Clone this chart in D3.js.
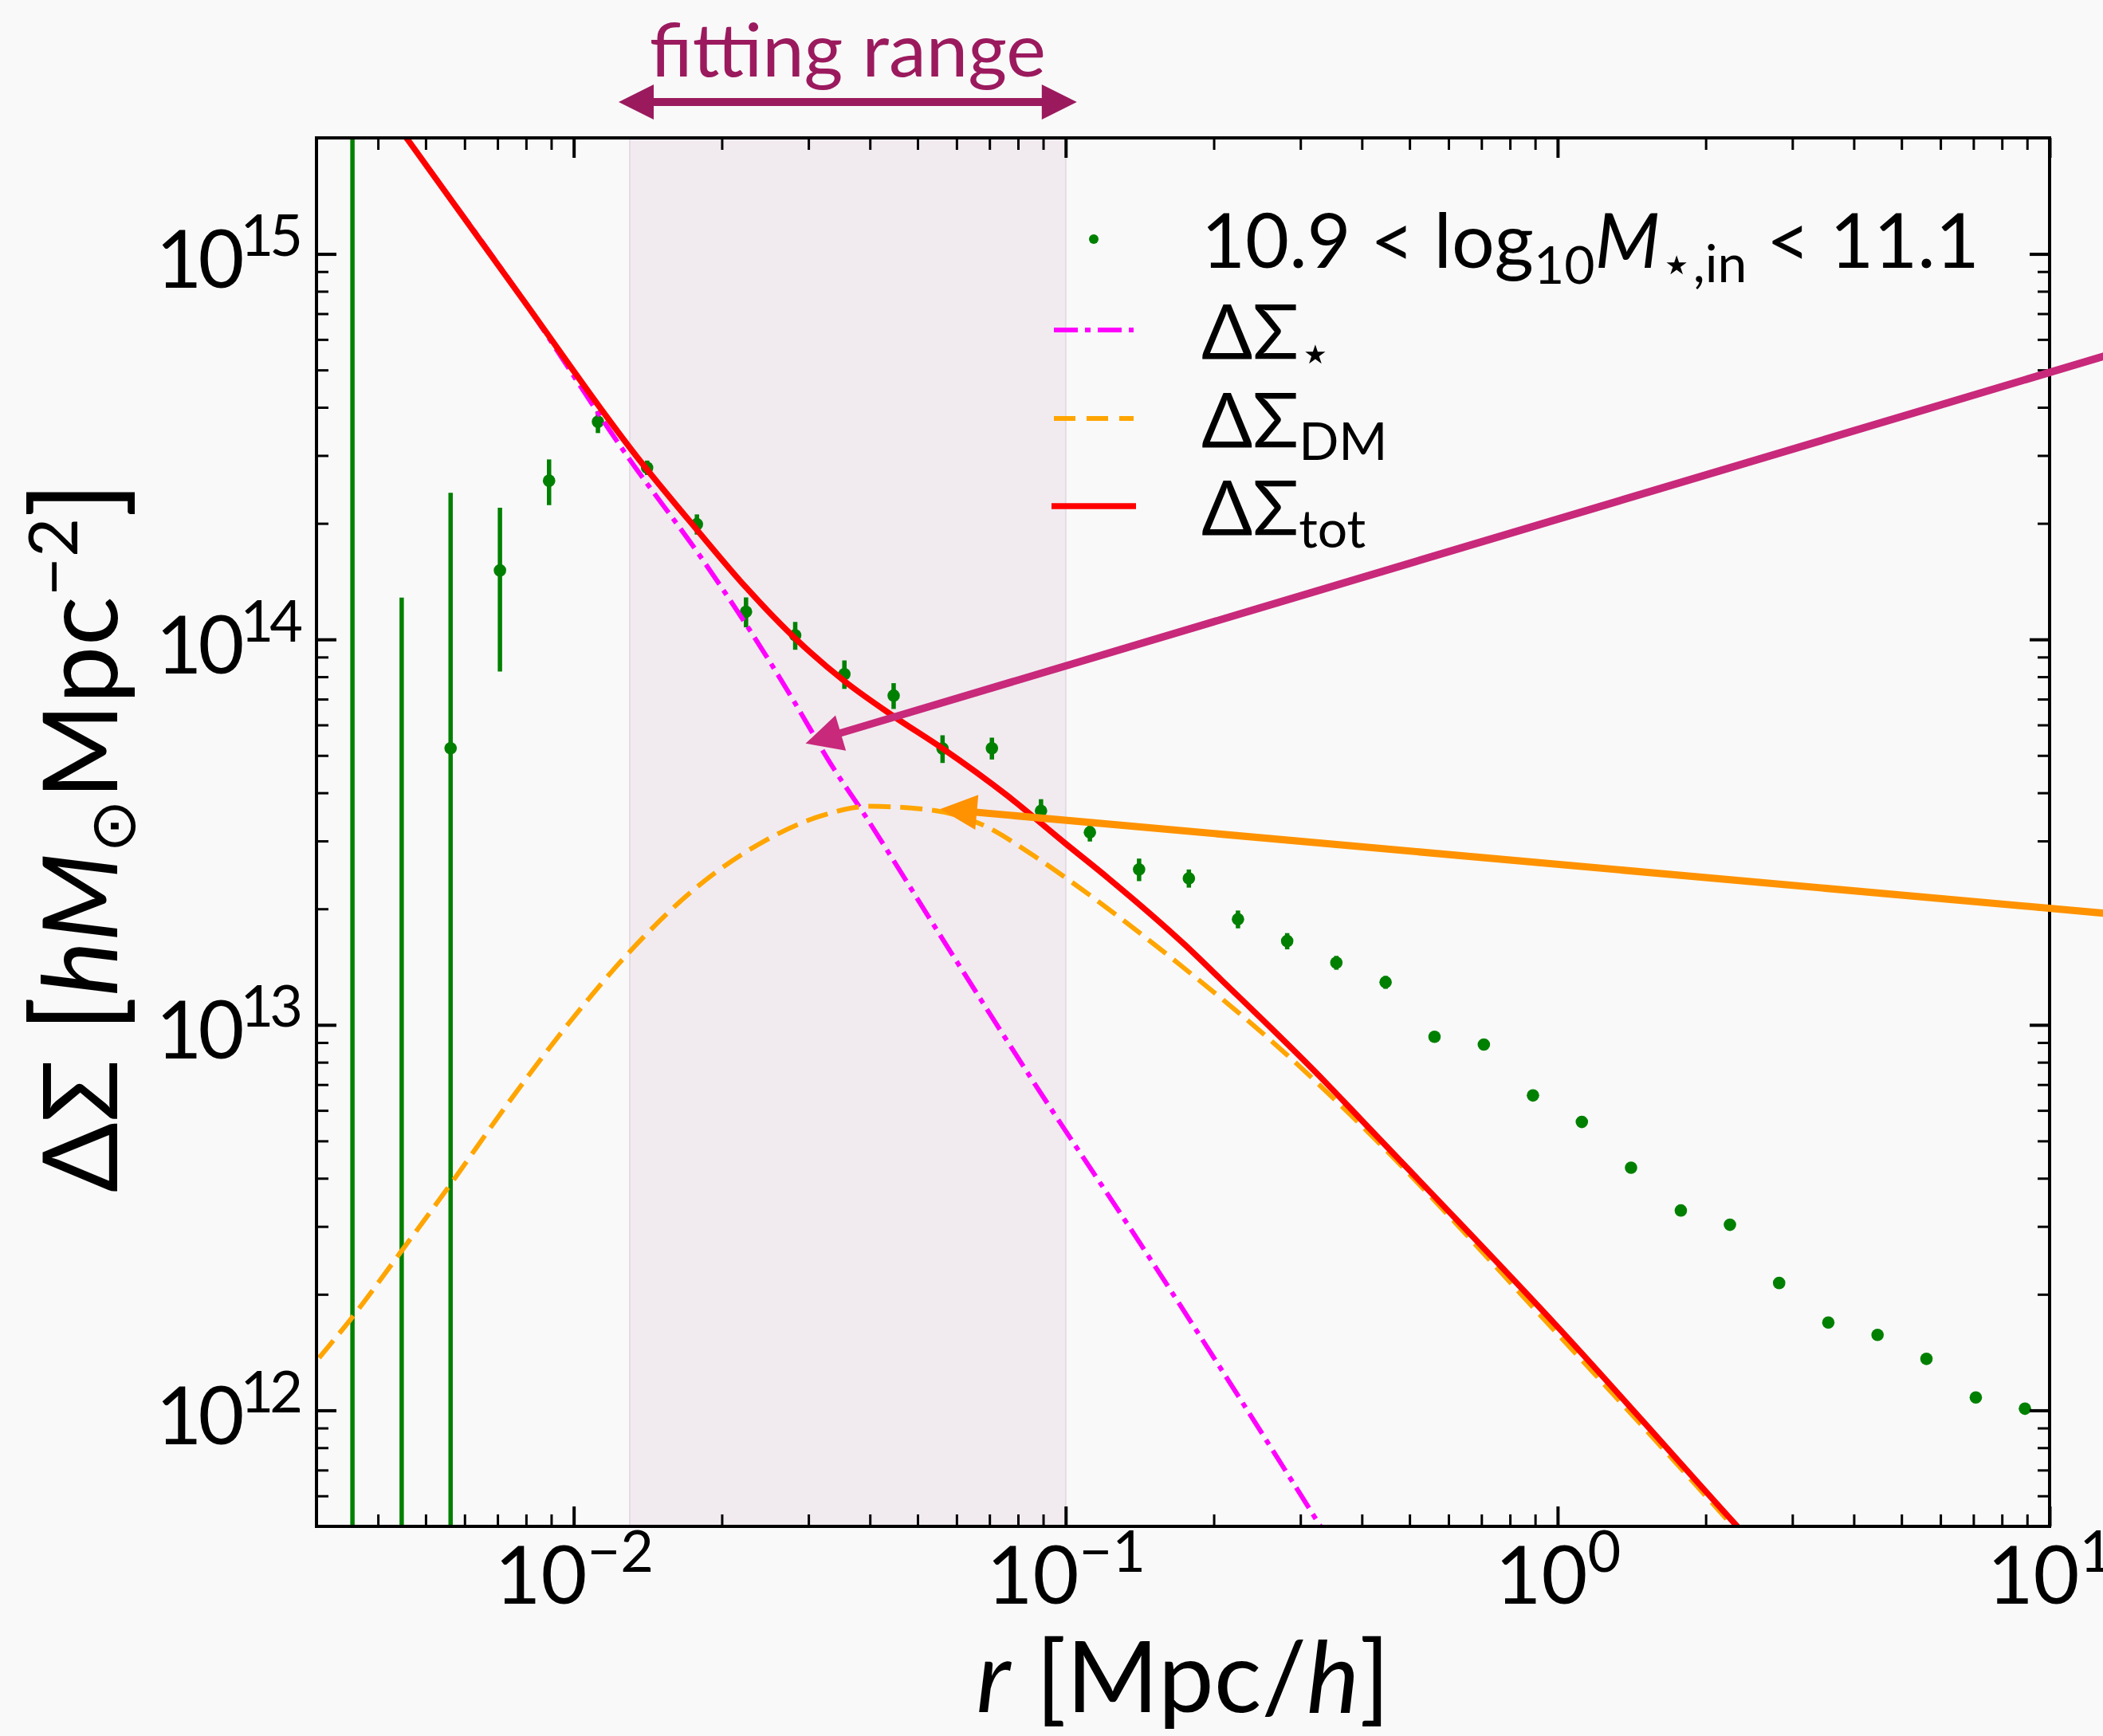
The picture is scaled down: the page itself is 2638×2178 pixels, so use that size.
<!DOCTYPE html>
<html><head><meta charset="utf-8">
<script src="https://cdn.jsdelivr.net/npm/d3@7"></script>
<style>
html,body{margin:0;padding:0;background:#f9f9f9;}
svg{display:block;}
text{font-family:Lato,"Open Sans","DejaVu Sans",sans-serif;}
</style></head><body>
<svg id="chart" width="2638" height="2178"></svg>
<script>
// ---------------- data ----------------
const rBins = [0.00355,0.00447,0.00562,0.00708,0.00891,0.0112,0.0141,0.0178,0.0224,0.0282,
  0.0355,0.0447,0.0562,0.0708,0.0891,0.112,0.141,0.178,0.224,0.282,
  0.355,0.447,0.562,0.708,0.891,1.12,1.41,1.78,2.24,2.82,
  3.55,4.47,5.62,7.08,8.91];
const dsObs = [3e11,3e11,5.22e13,1.51e14,2.58e14,3.67e14,2.79e14,1.99e14,1.18e14,1.025e14,
  8.13e13,7.15e13,5.21e13,5.22e13,3.59e13,3.16e13,2.53e13,2.40e13,1.88e13,1.65e13,
  1.45e13,1.29e13,9.31e12,8.89e12,6.56e12,5.60e12,4.26e12,3.30e12,3.03e12,2.14e12,
  1.69e12,1.57e12,1.36e12,1.08e12,1.01e12];
const dsErr = [5e15,1.28e14,1.88e14,6.85e13,3.5e13,2.4e13,1.2e13,1.2e13,1.05e13,8.5e12,
  6.9e12,5.5e12,4.3e12,3.4e12,2.6e12,1.7e12,1.7e12,1.3e12,1.0e12,8e11,
  6e11,5e11,3e11,2.5e11,2e11,1.5e11,1.2e11,9e10,7e10,5e10,
  4e10,3.5e10,3e10,2.5e10,2e10];

const starR  = [0.00355,0.00457,0.00782,0.01294,0.01828,0.02553,0.03034,0.03228,0.03917,0.05636,0.0861,0.1462,0.3296,0.398];
const starDS = [3.13e15,2.0e15,7.73e14,2.95e14,1.61e14,8.41e13,5.82e13,5.07e13,3.48e13,1.66e13,7.10e12,2.55e12,5.0e11,3.4e11];

const dmR  = [0.002512,0.003,0.003524,0.004406,0.005585,0.007379,0.009954,0.01285,0.01774,0.02443,0.03162,
  0.03999,0.05395,0.06683,0.08599,0.1030,0.1714,0.2818,0.3981,1.0,2.270,2.818];
const dmDS = [1.02e12,1.343e12,1.726e12,2.53e12,3.82e12,6.30e12,1.04e13,1.524e13,2.27e13,3.00e13,3.475e13,
  3.69e13,3.60e13,3.33e13,2.75e13,2.344e13,1.426e13,8.36e12,5.50e12,1.578e12,5.01e11,3.67e11];

const totR  = [0.003548,0.004571,0.007816,0.01343,0.01778,0.02239,0.02818,0.03548,0.04467,0.05623,
  0.07586,0.1,0.1222,0.1750,0.2070,0.3373,0.3963,1.0,2.315,2.818];
const totDS = [3.14e15,2.0e15,7.73e14,2.98e14,1.928e14,1.365e14,1.007e14,7.80e13,6.32e13,5.21e13,
  3.945e13,2.951e13,2.399e13,1.61e13,1.31e13,7.10e12,5.72e12,1.646e12,5.01e11,3.80e11];

const xMajorTicks = [0.01,0.1,1,10];
const xTickExp = ["\u22122","\u22121","0","1"];
const yMajorTicks = [1e12,1e13,1e14,1e15];
const yTickExp = ["12","13","14","15"];
const fitRange = [0.013,0.1];
const pinkArrow = {tail:[14,5.6e14], tip:[0.0296,5.37e13]};
const orangeArrow = {tail:[14,1.93e13], tip:[0.0556,3.63e13]};

// ---------------- layout ----------------
const W=2638,H=2178;
const L=397,R=2571,T=173,B=1915;
const svg=d3.select("#chart");
svg.append("rect").attr("width",W).attr("height",H).attr("fill","#f9f9f9");

const x=d3.scaleLog().domain([0.003,10]).range([L,R]);
const y=d3.scaleLog().domain([5e11,2e15]).range([B,T]);

svg.append("defs").append("clipPath").attr("id","plotclip")
  .append("rect").attr("x",L).attr("y",T).attr("width",R-L).attr("height",B-T);

const plot=svg.append("g").attr("clip-path","url(#plotclip)");

// fitting range shading
plot.append("rect").attr("x",x(fitRange[0])).attr("y",T).attr("width",x(fitRange[1])-x(fitRange[0]))
  .attr("height",B-T).attr("fill","#f1ebf0").attr("stroke","#e4dbe5").attr("stroke-width",2);

// data points with error bars
const pts=rBins.map((r,i)=>({r,v:dsObs[i],e:dsErr[i]}));
plot.append("g").selectAll("line").data(pts).join("line")
  .attr("x1",d=>x(d.r)).attr("x2",d=>x(d.r))
  .attr("y1",d=>y(d.v+d.e))
  .attr("y2",d=>(d.v-d.e)>0?y(d.v-d.e):B+50)
  .attr("stroke","#008000").attr("stroke-width",5.5);
plot.append("g").selectAll("circle").data(pts).join("circle")
  .attr("cx",d=>x(d.r)).attr("cy",d=>y(d.v)).attr("r",7.8).attr("fill","#008000");

// model curves
const line=d3.line().x(d=>x(d[0])).y(d=>y(d[1])).curve(d3.curveMonotoneX);
plot.append("path").attr("d",line(starR.map((r,i)=>[r,starDS[i]])))
  .attr("fill","none").attr("stroke","#ff00ff").attr("stroke-width",6).attr("stroke-dasharray","30,9,7,9");
plot.append("path").attr("d",line(dmR.map((r,i)=>[r,dmDS[i]])))
  .attr("fill","none").attr("stroke","#ffa500").attr("stroke-width",6).attr("stroke-dasharray","28,12");
plot.append("path").attr("d",line(totR.map((r,i)=>[r,totDS[i]])))
  .attr("fill","none").attr("stroke","#ff0000").attr("stroke-width",7.5);

// ---------------- axes ----------------
function minorTicks(lo,hi){const out=[];for(let e=-4;e<=16;e++){for(let m=2;m<=9;m++){const v=m*Math.pow(10,e);if(v>=lo*0.999&&v<=hi*1.001)out.push(v);}}return out;}
const xMinor=minorTicks(0.003,10), yMinor=minorTicks(5e11,2e15);
const MAJ=25, MIN=15;
function styleAxis(g,w){g.select(".domain").remove();g.selectAll(".tick line").attr("stroke","#000").attr("stroke-width",w);g.selectAll(".tick text").remove();}

svg.append("g").attr("transform",`translate(0,${B})`).call(d3.axisBottom(x).tickValues(xMinor).tickSize(-MIN).tickSizeOuter(0)).call(g=>styleAxis(g,3));
svg.append("g").attr("transform",`translate(0,${T})`).call(d3.axisTop(x).tickValues(xMinor).tickSize(-MIN).tickSizeOuter(0)).call(g=>styleAxis(g,3));
svg.append("g").attr("transform",`translate(${L},0)`).call(d3.axisLeft(y).tickValues(yMinor).tickSize(-MIN).tickSizeOuter(0)).call(g=>styleAxis(g,3));
svg.append("g").attr("transform",`translate(${R},0)`).call(d3.axisRight(y).tickValues(yMinor).tickSize(-MIN).tickSizeOuter(0)).call(g=>styleAxis(g,3));

const gxB=svg.append("g").attr("transform",`translate(0,${B})`).call(d3.axisBottom(x).tickValues(xMajorTicks).tickSize(-MAJ).tickSizeOuter(0)).call(g=>styleAxis(g,4));
svg.append("g").attr("transform",`translate(0,${T})`).call(d3.axisTop(x).tickValues(xMajorTicks).tickSize(-MAJ).tickSizeOuter(0)).call(g=>styleAxis(g,4));
const gyL=svg.append("g").attr("transform",`translate(${L},0)`).call(d3.axisLeft(y).tickValues(yMajorTicks).tickSize(-MAJ).tickSizeOuter(0)).call(g=>styleAxis(g,4));
svg.append("g").attr("transform",`translate(${R},0)`).call(d3.axisRight(y).tickValues(yMajorTicks).tickSize(-MAJ).tickSizeOuter(0)).call(g=>styleAxis(g,4));

gxB.selectAll(".tick").each(function(d,i){
  const t=d3.select(this).append("text").attr("y",97).attr("text-anchor","middle")
    .attr("font-size",100).attr("fill","#000").attr("font-family","Lato, sans-serif");
  t.append("tspan").text("10");
  t.append("tspan").attr("font-size",72).attr("dy",-40).text(xTickExp[i]);
});
gyL.selectAll(".tick").each(function(d,i){
  const t=d3.select(this).append("text").attr("x",-22).attr("y",42).attr("text-anchor","end")
    .attr("font-size",100).attr("fill","#000").attr("font-family","Lato, sans-serif")
    .attr("letter-spacing",-5);
  t.append("tspan").text("10");
  t.append("tspan").attr("font-size",72).attr("dy",-40).text(yTickExp[i]);
});

// frame
svg.append("rect").attr("x",L).attr("y",T).attr("width",R-L).attr("height",B-T)
  .attr("fill","none").attr("stroke","#000").attr("stroke-width",4);

// axis titles
const xl=svg.append("text").attr("x",(L+R)/2).attr("y",2148).attr("text-anchor","middle").attr("font-size",125).attr("fill","#000");
xl.append("tspan").attr("font-style","italic").text("r");
xl.append("tspan").text(" [Mpc/");
xl.append("tspan").attr("font-style","italic").text("h");
xl.append("tspan").text("]");

const yl=svg.append("text").attr("transform",`translate(147,${(T+B)/2+6}) rotate(-90)`).attr("text-anchor","middle").attr("font-size",130).attr("fill","#000");
yl.append("tspan").text("\u0394\u03A3 ");
yl.append("tspan").attr("font-size",150).text("[");
yl.append("tspan").attr("font-style","italic").text("hM");
yl.append("tspan").attr("font-size",80).attr("dy",22).text("\u2299");
yl.append("tspan").attr("dy",-22).text("Mpc");
yl.append("tspan").attr("font-size",85).attr("dy",-50).text("\u22122");
yl.append("tspan").attr("font-size",150).attr("dy",50).text("]");

// ---------------- legend ----------------
const lg=svg.append("g");
const hx0=1322,hx1=1422,tx=1507;
const rowsY=[300,414,525,635];
lg.append("circle").attr("cx",1372).attr("cy",rowsY[0]).attr("r",6).attr("fill","#008000");
lg.append("line").attr("x1",hx0).attr("x2",hx1).attr("y1",rowsY[1]).attr("y2",rowsY[1]).attr("stroke","#ff00ff").attr("stroke-width",6).attr("stroke-dasharray","30,9,7,9");
lg.append("line").attr("x1",hx0).attr("x2",hx1).attr("y1",rowsY[2]).attr("y2",rowsY[2]).attr("stroke","#ffa500").attr("stroke-width",6).attr("stroke-dasharray","27,14");
lg.append("line").attr("x1",hx0-3).attr("x2",hx1+3).attr("y1",rowsY[3]).attr("y2",rowsY[3]).attr("stroke","#ff0000").attr("stroke-width",7.5);

const fs=95;
const t1=lg.append("text").attr("x",tx).attr("y",rowsY[0]+36).attr("font-size",fs).attr("fill","#000");
t1.append("tspan").text("10.9 < log");
t1.append("tspan").attr("font-size",66).attr("dy",20).text("10");
t1.append("tspan").attr("dy",-20).attr("font-style","italic").text("M");
t1.append("tspan").attr("font-size",66).attr("dy",18).text("\u22C6,in");
t1.append("tspan").attr("dy",-18).text(" < 11.1");

const subs=["\u22C6","DM","tot"];
subs.forEach((s,i)=>{
  const t=lg.append("text").attr("x",tx).attr("y",rowsY[i+1]+36).attr("font-size",fs).attr("fill","#000");
  t.append("tspan").text("\u0394\u03A3");
  t.append("tspan").attr("font-size",66).attr("dy",16).text(s);
});

// ---------------- annotations ----------------
function arrow(a,color,w,headLen,headHalf){
  const tx0=x(a.tail[0]),ty0=y(a.tail[1]),px=x(a.tip[0]),py=y(a.tip[1]);
  const dx=px-tx0,dy=py-ty0,len=Math.hypot(dx,dy),ux=dx/len,uy=dy/len;
  const bx=px-ux*headLen,by=py-uy*headLen;
  svg.append("line").attr("x1",tx0).attr("y1",ty0).attr("x2",bx+ux*4).attr("y2",by+uy*4)
    .attr("stroke",color).attr("stroke-width",w);
  svg.append("path").attr("d",`M${px},${py}L${bx-uy*headHalf},${by+ux*headHalf}L${bx+uy*headHalf},${by-ux*headHalf}Z`)
    .attr("fill",color);
}
arrow(pinkArrow,"#c8297a",9.5,46,23);
arrow(orangeArrow,"#ff9200",9,46,22);

// fitting range label and double arrow
const fitColor="#9b1a5e";
const fa=x(fitRange[0])-14, fb=x(fitRange[1])+14, fy=128;
svg.append("line").attr("x1",fa+40).attr("x2",fb-40).attr("y1",fy).attr("y2",fy).attr("stroke",fitColor).attr("stroke-width",10);
svg.append("path").attr("d",`M${fa},${fy}L${fa+44},${fy-22}L${fa+44},${fy+22}Z`).attr("fill",fitColor);
svg.append("path").attr("d",`M${fb},${fy}L${fb-44},${fy-22}L${fb-44},${fy+22}Z`).attr("fill",fitColor);
svg.append("text").attr("x",(fa+fb)/2).attr("y",96).attr("text-anchor","middle").attr("font-size",94)
  .attr("fill",fitColor).text("fitting range");
</script>
</body></html>
